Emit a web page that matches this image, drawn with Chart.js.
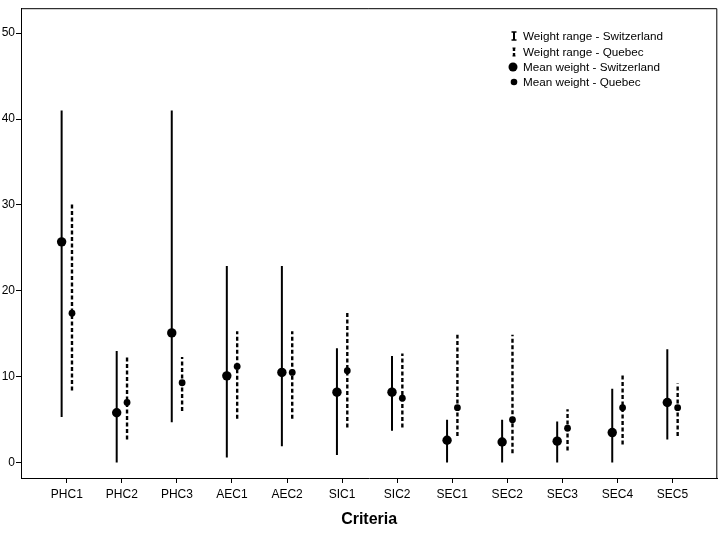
<!DOCTYPE html>
<html>
<head>
<meta charset="utf-8">
<script src="https://cdn.jsdelivr.net/npm/chart.js@4/dist/chart.umd.min.js"></script>
<style>
  html, body { margin: 0; padding: 0; background: #fff; }
  #wrap { width: 722px; height: 533px; position: relative; }
</style>
</head>
<body>
<div id="wrap"><canvas id="weightChart"></canvas></div>
<script>
// Criteria weights: range and mean, Switzerland vs Quebec
const criteria = ['PHC1', 'PHC2', 'PHC3', 'AEC1', 'AEC2', 'SIC1', 'SIC2', 'SEC1', 'SEC2', 'SEC3', 'SEC4', 'SEC5'];

const swissMin  = [5.3, 0, 4.7, 0.6, 1.9, 0.9, 3.7, 0, 0, 0, 0, 2.7];
const swissMax  = [41.0, 13.0, 41.0, 22.9, 22.9, 13.3, 12.4, 5.0, 5.0, 4.8, 8.6, 13.2];
const swissMean = [25.7, 5.8, 15.1, 10.1, 10.5, 8.2, 8.2, 2.6, 2.4, 2.5, 3.5, 7.0];

const quebecMin  = [8.4, 2.7, 6.0, 5.1, 5.1, 4.1, 4.1, 3.1, 1.1, 1.4, 2.1, 3.1];
const quebecMax  = [30.2, 12.3, 12.3, 15.3, 15.3, 17.7, 12.7, 14.9, 14.9, 6.2, 10.2, 9.2];
const quebecMean = [17.4, 7.0, 9.3, 11.2, 10.5, 10.7, 7.5, 6.4, 5.0, 4.0, 6.4, 6.4];

const yTicks = [0, 10, 20, 30, 40, 50];

const FONT = "'Liberation Sans', Arial, sans-serif";
const SHIFT = 0.094; // side-by-side offset of the two countries

// one vertical segment per criterion, separated by gaps
function rangeData(lo, hi, dx) {
  const pts = [];
  criteria.forEach((c, i) => {
    pts.push({ x: i + dx, y: lo[i] });
    pts.push({ x: i + dx, y: hi[i] });
    pts.push({ x: i + dx, y: null });
  });
  return pts;
}

function meanData(vals, dx) {
  return vals.map((v, i) => ({ x: i + dx, y: v }));
}

// frame on top and right + legend box in upper right
const framePlugin = {
  id: 'frame',
  afterDraw(chart) {
    const { ctx, chartArea: a } = chart;
    ctx.save();
    ctx.strokeStyle = '#000';
    ctx.lineWidth = 1;
    ctx.beginPath();
    ctx.moveTo(a.left, a.top + 0.5);
    ctx.lineTo(a.right - 0.5, a.top + 0.5);
    ctx.lineTo(a.right - 0.5, a.bottom);
    ctx.stroke();

    // legend
    const ix = 514, tx = 523;
    const rows = [36, 52, 67, 82];
    const labels = ['Weight range - Switzerland', 'Weight range - Quebec',
                    'Mean weight - Switzerland', 'Mean weight - Quebec'];
    ctx.fillStyle = '#000';
    ctx.font = '11.7px ' + FONT;
    ctx.textBaseline = 'middle';
    labels.forEach((t, k) => ctx.fillText(t, tx, rows[k] + 1));

    // I-beam solid
    ctx.lineWidth = 2;
    ctx.beginPath();
    ctx.moveTo(ix, rows[0] - 4); ctx.lineTo(ix, rows[0] + 4);
    ctx.stroke();
    ctx.lineWidth = 1.5;
    ctx.beginPath();
    ctx.moveTo(ix - 2.5, rows[0] - 4); ctx.lineTo(ix + 2.5, rows[0] - 4);
    ctx.moveTo(ix - 2.5, rows[0] + 4); ctx.lineTo(ix + 2.5, rows[0] + 4);
    ctx.stroke();
    // I-beam dashed
    ctx.lineWidth = 2.4;
    ctx.setLineDash([3, 2]);
    ctx.beginPath();
    ctx.moveTo(ix, rows[1] - 4); ctx.lineTo(ix, rows[1] + 4);
    ctx.stroke();
    ctx.setLineDash([]);
    ctx.lineWidth = 1.2;
    ctx.beginPath();
    ctx.moveTo(ix - 1.5, rows[1] - 4); ctx.lineTo(ix + 1.5, rows[1] - 4);
    ctx.moveTo(ix - 1.5, rows[1] + 4); ctx.lineTo(ix + 1.5, rows[1] + 4);
    ctx.stroke();
    // dots
    ctx.beginPath(); ctx.arc(ix - 1, rows[2], 4.5, 0, Math.PI * 2); ctx.fill();
    ctx.beginPath(); ctx.arc(ix, rows[3], 3.3, 0, Math.PI * 2); ctx.fill();
    ctx.restore();
  }
};

const ctx = document.getElementById('weightChart').getContext('2d');
const weightChart = new Chart(ctx, {
  type: 'line',
  data: {
    datasets: [
      {
        label: 'Weight range - Switzerland',
        data: rangeData(swissMin, swissMax, -SHIFT),
        borderColor: '#000',
        borderWidth: 2,
        pointRadius: 0,
        spanGaps: false
      },
      {
        label: 'Weight range - Quebec',
        data: rangeData(quebecMin, quebecMax, SHIFT),
        borderColor: '#000',
        borderWidth: 2.4,
        borderDash: [4, 2.5],
        pointRadius: 0,
        spanGaps: false
      },
      {
        label: 'Mean weight - Switzerland',
        data: meanData(swissMean, -SHIFT),
        showLine: false,
        pointRadius: 4.7,
        pointBackgroundColor: '#000',
        pointBorderWidth: 0
      },
      {
        label: 'Mean weight - Quebec',
        data: meanData(quebecMean, SHIFT),
        showLine: false,
        pointRadius: 3.4,
        pointBackgroundColor: '#000',
        pointBorderWidth: 0
      }
    ]
  },
  options: {
    responsive: true,
    maintainAspectRatio: false,
    animation: false,
    layout: { padding: { top: 3, right: 2, left: 0, bottom: 0 } },
    plugins: {
      legend: { display: false },
      tooltip: { enabled: false }
    },
    scales: {
      x: {
        type: 'linear',
        min: -0.832,
        max: 11.814,
        afterBuildTicks(axis) {
          axis.ticks = criteria.map((c, i) => ({ value: i }));
        },
        afterFit(axis) { axis.height = 55; },
        grid: { drawOnChartArea: false, drawTicks: true, tickLength: 5, color: '#000' },
        border: { display: true, color: '#000', width: 1 },
        ticks: {
          padding: 4,
          maxRotation: 0,
          autoSkip: false,
          color: '#000',
          font: { family: FONT, size: 12 },
          callback: (v) => criteria[v]
        },
        title: {
          display: true,
          text: 'Criteria',
          color: '#000',
          font: { family: FONT, size: 16, weight: 'bold' },
          padding: { top: 0, bottom: 4 }
        }
      },
      y: {
        min: -1.79,
        max: 52.9,
        afterBuildTicks(axis) {
          axis.ticks = yTicks.map(v => ({ value: v }));
        },
        afterFit(axis) { axis.width = 21; },
        grid: { drawOnChartArea: false, drawTicks: true, tickLength: 5, color: '#000' },
        border: { display: true, color: '#000', width: 1 },
        ticks: {
          padding: 1,
          color: '#000',
          font: { family: FONT, size: 12 }
        }
      }
    }
  },
  plugins: [framePlugin]
});
</script>
</body>
</html>
